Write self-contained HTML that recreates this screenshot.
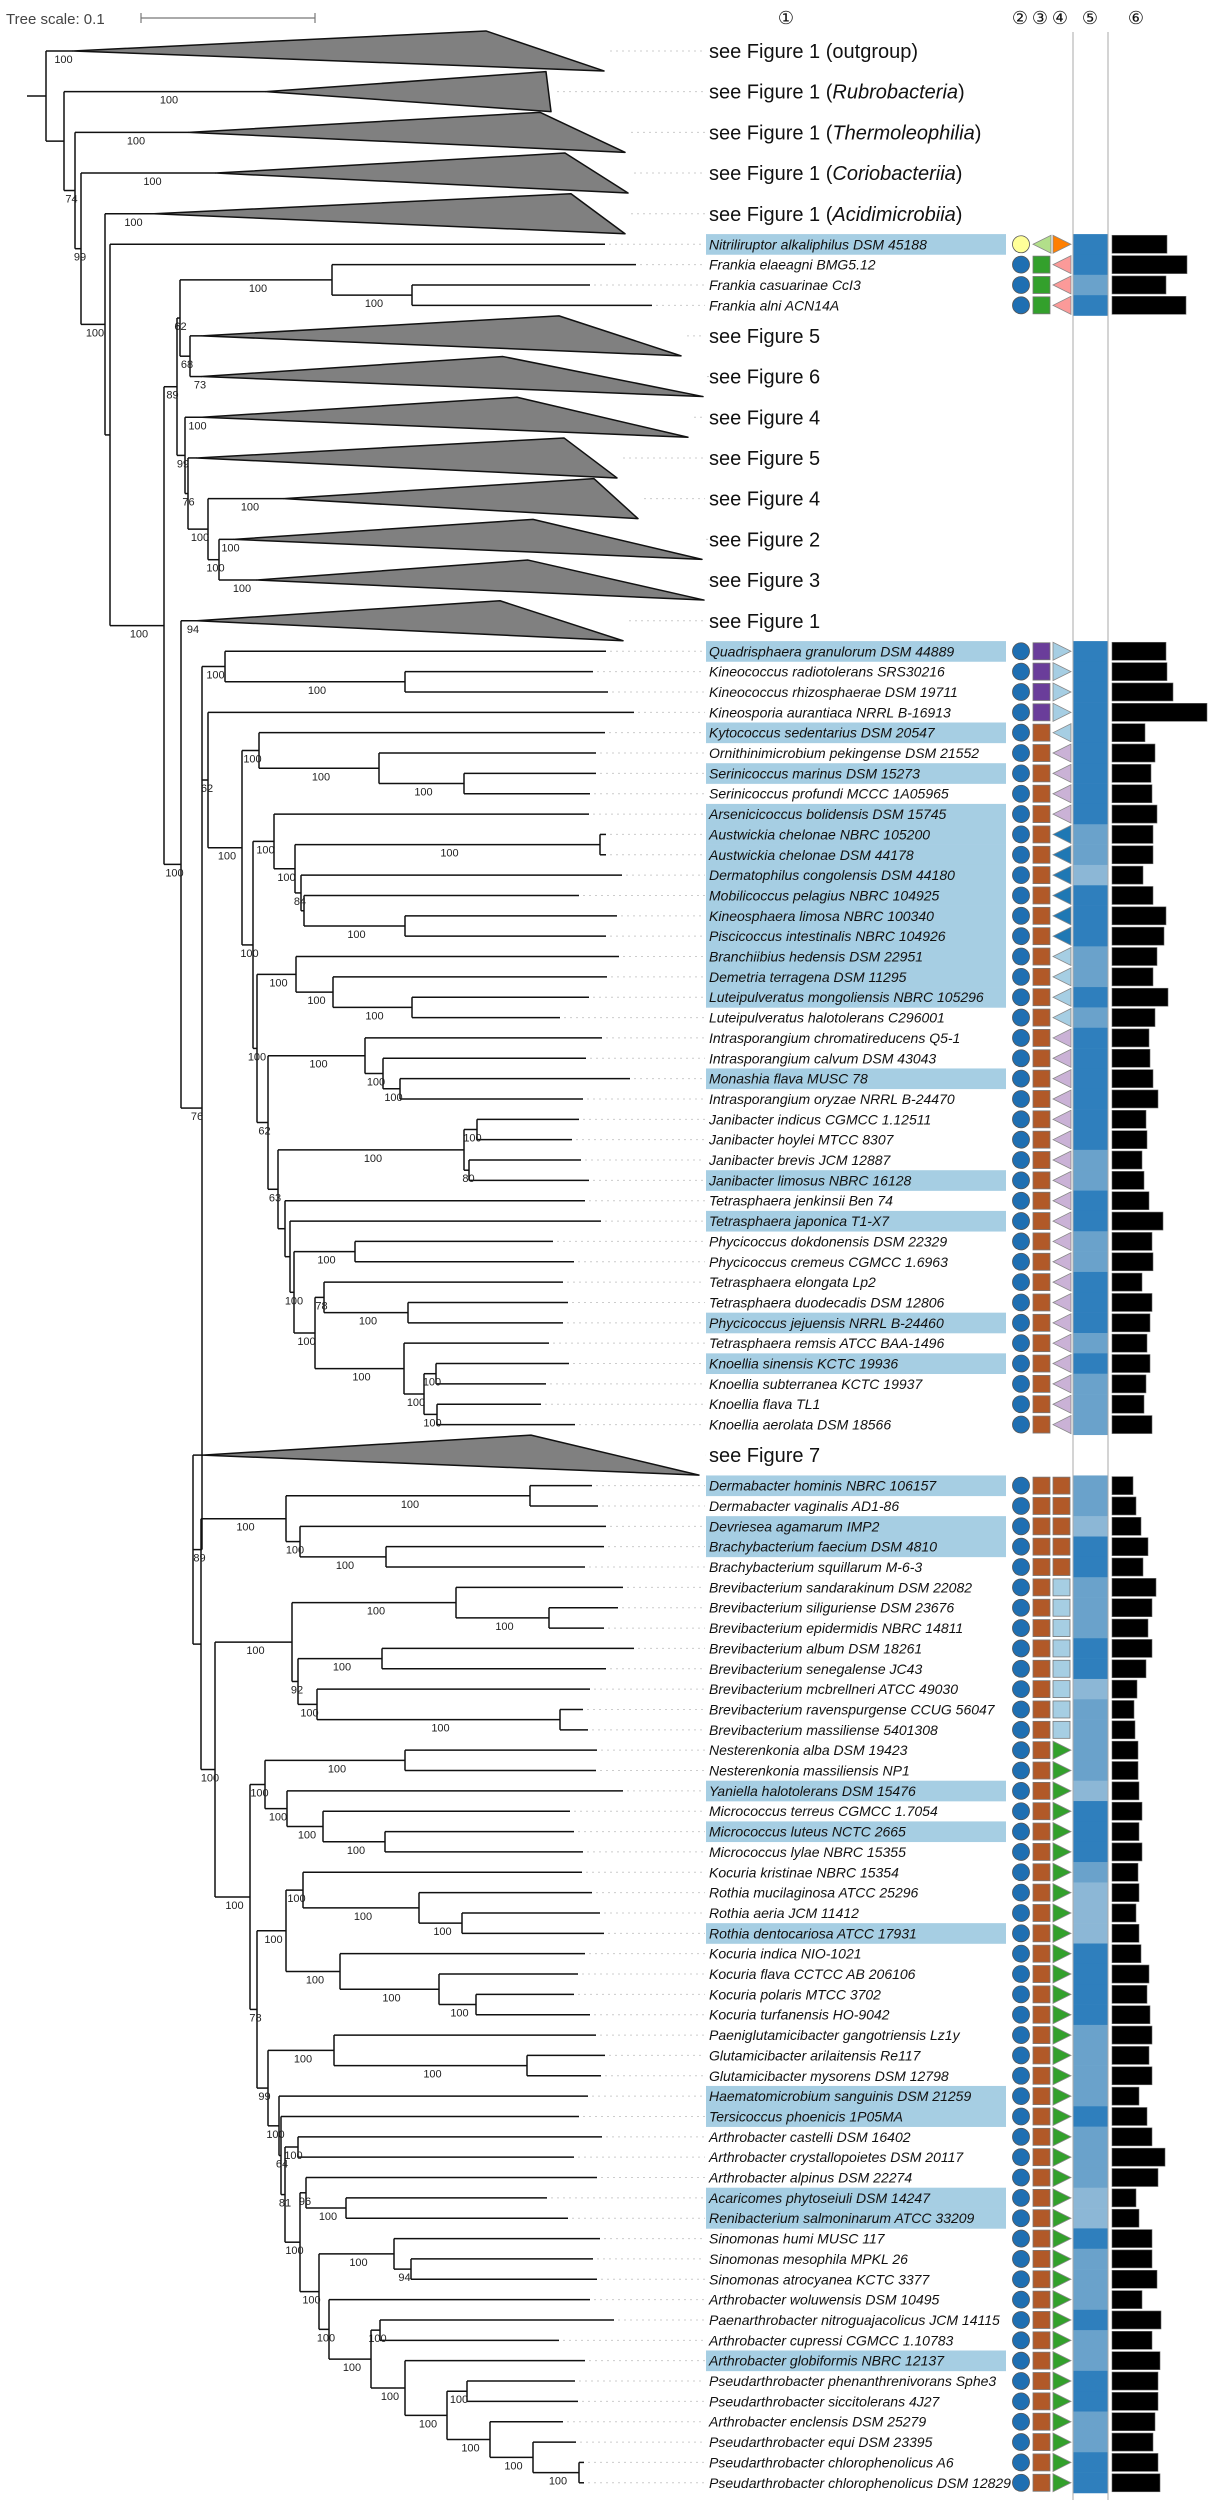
<!DOCTYPE html>
<html><head><meta charset="utf-8"><title>Phylogenetic tree</title>
<style>
html,body{margin:0;padding:0;background:#fff;}
svg{display:block;font-family:"Liberation Sans",sans-serif;}
</style></head>
<body>
<svg id="chart" width="1209" height="2500" viewBox="0 0 1209 2500" xmlns="http://www.w3.org/2000/svg">
<text x="6" y="24" font-size="15" fill="#444">Tree scale: 0.1</text>
<g stroke="#777" stroke-width="1.2">
<line x1="141" y1="18" x2="315" y2="18"/><line x1="141" y1="13" x2="141" y2="23"/><line x1="315" y1="13" x2="315" y2="23"/>
</g>
<g font-family="DejaVu Sans, sans-serif" font-size="18" text-anchor="middle" fill="#111">
<text x="786" y="24">①</text>
<text x="1020" y="24">②</text>
<text x="1040" y="24">③</text>
<text x="1060" y="24">④</text>
<text x="1090" y="24">⑤</text>
<text x="1136" y="24">⑥</text>
</g>
<g id="hl"></g>
<g id="band"></g>
<line x1="1073" y1="32" x2="1073" y2="2500" stroke="#aaa" stroke-width="1"/>
<line x1="1108" y1="32" x2="1108" y2="2500" stroke="#aaa" stroke-width="1"/>
<g id="tree"></g>
<g id="labels"></g>
<g id="marks"></g>
</svg>
<script>
// ---- data ----
const tipSeq = "CCCCCLLLLCCCCCCCC" + "LLLLLLLLLLLLLLLLLLLLLLLLLLLLLLLLLLLLLLL" + "C" + "LLLLLLLLLLLLLLLLLLLLLLLLLLLLLLLLLLLLLLLLLLLLLLLLLL";
const cladeLabels = [["see Figure 1 (outgroup)",""],["see Figure 1 (","Rubrobacteria"],["see Figure 1 (","Thermoleophilia"],["see Figure 1 (","Coriobacteriia"],["see Figure 1 (","Acidimicrobiia"],["see Figure 5",""],["see Figure 6",""],["see Figure 4",""],["see Figure 5",""],["see Figure 4",""],["see Figure 2",""],["see Figure 3",""],["see Figure 1",""],["see Figure 7",""]];
const leafNames = ["Nitriliruptor alkaliphilus DSM 45188","Frankia elaeagni BMG5.12","Frankia casuarinae CcI3","Frankia alni ACN14A",
"Quadrisphaera granulorum DSM 44889","Kineococcus radiotolerans SRS30216","Kineococcus rhizosphaerae DSM 19711","Kineosporia aurantiaca NRRL B-16913","Kytococcus sedentarius DSM 20547","Ornithinimicrobium pekingense DSM 21552","Serinicoccus marinus DSM 15273","Serinicoccus profundi MCCC 1A05965","Arsenicicoccus bolidensis DSM 15745","Austwickia chelonae NBRC 105200","Austwickia chelonae DSM 44178","Dermatophilus congolensis DSM 44180","Mobilicoccus pelagius NBRC 104925","Kineosphaera limosa NBRC 100340","Piscicoccus intestinalis NBRC 104926","Branchiibius hedensis DSM 22951","Demetria terragena DSM 11295","Luteipulveratus mongoliensis NBRC 105296","Luteipulveratus halotolerans C296001","Intrasporangium chromatireducens Q5-1","Intrasporangium calvum DSM 43043","Monashia flava MUSC 78","Intrasporangium oryzae NRRL B-24470","Janibacter indicus CGMCC 1.12511","Janibacter hoylei MTCC 8307","Janibacter brevis JCM 12887","Janibacter limosus NBRC 16128","Tetrasphaera jenkinsii Ben 74","Tetrasphaera japonica T1-X7","Phycicoccus dokdonensis DSM 22329","Phycicoccus cremeus CGMCC 1.6963","Tetrasphaera elongata Lp2","Tetrasphaera duodecadis DSM 12806","Phycicoccus jejuensis NRRL B-24460","Tetrasphaera remsis ATCC BAA-1496","Knoellia sinensis KCTC 19936","Knoellia subterranea KCTC 19937","Knoellia flava TL1","Knoellia aerolata DSM 18566",
"Dermabacter hominis NBRC 106157","Dermabacter vaginalis AD1-86","Devriesea agamarum IMP2","Brachybacterium faecium DSM 4810","Brachybacterium squillarum M-6-3","Brevibacterium sandarakinum DSM 22082","Brevibacterium siliguriense DSM 23676","Brevibacterium epidermidis NBRC 14811","Brevibacterium album DSM 18261","Brevibacterium senegalense JC43","Brevibacterium mcbrellneri ATCC 49030","Brevibacterium ravenspurgense CCUG 56047","Brevibacterium massiliense 5401308","Nesterenkonia alba DSM 19423","Nesterenkonia massiliensis NP1","Yaniella halotolerans DSM 15476","Micrococcus terreus CGMCC 1.7054","Micrococcus luteus NCTC 2665","Micrococcus lylae NBRC 15355","Kocuria kristinae NBRC 15354","Rothia mucilaginosa ATCC 25296","Rothia aeria JCM 11412","Rothia dentocariosa ATCC 17931","Kocuria indica NIO-1021","Kocuria flava CCTCC AB 206106","Kocuria polaris MTCC 3702","Kocuria turfanensis HO-9042","Paeniglutamicibacter gangotriensis Lz1y","Glutamicibacter arilaitensis Re117","Glutamicibacter mysorens DSM 12798","Haematomicrobium sanguinis DSM 21259","Tersicoccus phoenicis 1P05MA","Arthrobacter castelli DSM 16402","Arthrobacter crystallopoietes DSM 20117","Arthrobacter alpinus DSM 22274","Acaricomes phytoseiuli DSM 14247","Renibacterium salmoninarum ATCC 33209","Sinomonas humi MUSC 117","Sinomonas mesophila MPKL 26","Sinomonas atrocyanea KCTC 3377","Arthrobacter woluwensis DSM 10495","Paenarthrobacter nitroguajacolicus JCM 14115","Arthrobacter cupressi CGMCC 1.10783","Arthrobacter globiformis NBRC 12137","Pseudarthrobacter phenanthrenivorans Sphe3","Pseudarthrobacter siccitolerans 4J27","Arthrobacter enclensis DSM 25279","Pseudarthrobacter equi DSM 23395","Pseudarthrobacter chlorophenolicus A6","Pseudarthrobacter chlorophenolicus DSM 12829"];
const highlighted = "1000"
 + "1000101011111111110001000010100001010000".slice(0,0) + "10001010"+"1111111111"+"000"+"1"+"0000"+"1"+"0"+"1"+"0000"+"1"+"0"+"1"+"000"
 + "10110"+"0000000000"+"101"+"0000"+"1"+"0000000"+"11"+"000"+"11"+"000000"+"1"+"000000";
const col2 = "ybbb"
 + "bbbbbbbbbb"+"bbbbbbbbbb"+"bbbbbbbbbb"+"bbbbbbbbb"
 + "bbbbbbbbbb"+"bbbbbbbbbb"+"bbbbbbbbbb"+"bbbbbbbbbb"+"bbbbbbbbbb";
const col3 = "lggg"
 + "pppp"+"oooooooooo"+"oooooooooo"+"oooooooooo"+"ooooo"
 + "oooooooooo"+"oooooooooo"+"oooooooooo"+"oooooooooo"+"oooooooooo";
const col4 = "Rkkk"
 + "rrrr"+"a"+"vvvv"+"dddddd"+"aaaa"+"vvvvvvvvvv"+"vvvvvvvvvv"
 + "ooooo"+"ssssssss"+"GGGGGGGGGG"+"GGGGGGGGGG"+"GGGGGGGGGG"+"GGGGGGG";
const bandLevel = "0010"
 + "000000000"+"11"+"2"+"000"+"11"+"0"+"1000000110"+"0110001011"+"1"
 + "1120011100"+"211"+"1120001222"+"0000111101"+"1122011101"+"1001100";
const barValues = [55,75,54,74,
54,55,61,95,33,43,39,40,45,41,41,31,41,54,52,45,41,56,43,37,38,41,46,34,35,30,32,37,51,40,41,30,40,38,35,38,34,32,40,
21,24,29,36,31,44,40,36,40,34,25,22,23,26,26,27,30,27,30,26,27,24,27,29,37,35,38,40,37,40,27,35,40,53,46,24,27,40,40,45,30,49,40,48,46,46,43,41,46,48];

// ---- tree topology (x = node depth in px) ----
function N(x,b,...k){return {x:x,b:b,k:k};}
function T(i,e){return {t:i,e:e};}
function C(i,a,t,bo,b){return {c:i,a:a,tp:t,bo:bo,b:b};}
const tree = N(46,'',
 C(0,73,486,604,'100'),
 N(64,'',
  C(1,266,546,551,'100'),
  N(75,'74',
   C(2,189,540,625,'100'),
   N(81,'99',
    C(3,216,565,628,'100'),
    N(105,'100',
     C(4,154,571,625,'100'),
     N(110,'',
      T(5,605),
      N(164,'100',
       N(177,'89',
        N(180,'62',
         N(332,'100',T(6,636),N(412,'100',T(7,590),T(8,652))),
         N(190,'68',C(9,202,559,681,''),C(10,202,503,703,'73'))),
        N(185,'99',
         C(11,202,517,688,'100'),
         N(188,'76',
          C(12,197,564,617,''),
          N(208,'100',
           C(13,284,594,638,'100'),
           N(219,'100',C(14,234,533,702,'100'),C(15,257,528,704,'100')))))),
       N(181,'100',
        C(16,197,500,623,'94'),
        N(188,'',
         N(202,'76',
          N(225,'100',T(17,606),N(405,'100',T(18,593),T(19,608))),
          N(208,'62',T(20,634),
           N(242,'100',
            N(259,'100',T(21,605),N(379,'100',T(22,596),N(464,'100',T(23,596),T(24,590)))),
            N(253,'100',
             N(274,'100',T(25,589),
              N(295,'100',N(600,'100',T(26,606),T(27,606)),
               N(301,'84',T(28,622),N(304,'',T(29,579),N(405,'100',T(30,617),T(31,606)))))),
             N(257,'100',
              N(296,'100',T(32,619),N(333,'100',T(33,607),N(412,'100',T(34,589),T(35,560)))),
              N(268,'62',
               N(365,'100',T(36,602),N(383,'100',T(37,586),N(400,'100',T(38,630),T(39,583)))),
               N(278,'63',
                N(464,'100',N(477,'100',T(40,579),T(41,572)),N(469,'80',T(42,581),T(43,589))),
                N(285,'',T(44,585),
                 N(290,'',T(45,601),
                  N(294,'100',
                   N(355,'100',T(46,553),T(47,574)),
                   N(315,'100',
                    N(324,'78',T(48,563),N(408,'100',T(49,568),T(50,563))),
                    N(404,'100',T(51,549),N(424,'100',N(436,'100',T(52,569),T(53,546)),N(437,'100',T(54,541),T(55,575)))))))))))))),
         N(193,'89',
          C(56,203,531,699,''),
          N(201,'',
           N(286,'100',N(530,'100',T(57,592),T(58,598)),N(300,'100',T(59,606),N(386,'100',T(60,604),T(61,585)))),
           N(215,'100',
            N(292,'100',
             N(456,'100',T(62,623),N(549,'100',T(63,618),T(64,604))),
             N(298,'92',N(382,'100',T(65,634),T(66,606)),N(317,'100',T(67,590),N(560,'100',T(68,583),T(69,588))))),
            N(250,'100',
             N(265,'100',N(405,'100',T(70,597),T(71,596)),N(287,'100',T(72,623),N(323,'100',T(73,570),N(385,'100',T(74,574),T(75,583))))),
             N(257,'78',
              N(286,'100',
               N(303,'100',T(76,582),N(419,'100',T(77,592),N(462,'100',T(78,600),T(79,604)))),
               N(340,'100',T(80,585),N(439,'100',T(81,578),N(476,'100',T(82,574),T(83,590))))),
              N(268,'99',
               N(334,'100',T(84,596),N(527,'100',T(85,605),T(86,601))),
               N(279,'100',T(87,588),
                N(281,'64',T(88,579),
                 N(285,'81',
                  N(298,'100',T(89,602),T(90,574)),
                  N(300,'100',
                   N(306,'96',T(91,597),N(346,'100',T(92,547),T(93,568))),
                   N(319,'100',
                    N(394,'100',T(94,600),N(411,'94',T(95,593),T(96,597))),
                    N(329,'100',T(97,590),
                     N(371,'100',N(380,'100',T(98,614),T(99,559)),
                      N(405,'100',T(100,585),
                       N(447,'100',N(467,'100',T(101,575),T(102,578)),
                        N(490,'100',T(103,563),N(533,'100',T(104,576),N(579,'100',T(105,584),T(106,584)))))))))))))))))))))))))))));

// ---- layout ----
const NS="http://www.w3.org/2000/svg";
const ROW=20.35, TOP=30.6, LABX=709, LEADX=705;
const tipY=[], tipLeaf=[], tipClade=[];
(function(){let u=0,li=0,ci=0;for(let i=0;i<tipSeq.length;i++){if(tipSeq[i]==='C'){tipY.push(TOP+(u+1)*ROW);u+=2;tipClade[i]=ci++;}else{tipY.push(TOP+(u+0.5)*ROW);u+=1;tipLeaf[i]=li++;}}})();
function el(tag,attrs,parent){const e=document.createElementNS(NS,tag);for(const k in attrs)e.setAttribute(k,attrs[k]);parent.appendChild(e);return e;}
const gTree=document.getElementById('tree'),gLab=document.getElementById('labels'),gHl=document.getElementById('hl'),gBand=document.getElementById('band'),gMarks=document.getElementById('marks');
function boot(txt,x,y){if(!txt)return;const t=el('text',{x:x,y:y,'font-size':11,'text-anchor':'middle',fill:'#222'},gTree);t.textContent=txt;

}
function line(x1,y1,x2,y2,name){const l=el('line',{x1:x1,y1:y1,x2:x2,y2:y2,stroke:'#111','stroke-width':1.5},gTree);

}
function leader(x1,y){const l=el('line',{x1:x1,y1:y,x2:LEADX,y2:y,stroke:'#ccc','stroke-width':1,'stroke-dasharray':'2 4'},gTree);

}
function draw(n,px){
 if(n.t!==undefined){const y=tipY[n.t];line(px,y,n.e,y,'leaf-branch');leader(n.e+4,y);return y;}
 if(n.c!==undefined){const y=tipY[n.c];line(px,y,n.a,y,'clade-branch');
  const p=el('polygon',{points:n.a+','+y+' '+n.tp+','+(y-20)+' '+n.bo+','+(y+20),fill:'#808080',stroke:'#111','stroke-width':1.5,'stroke-linejoin':'round'},gTree);
  
  
  leader(Math.max(n.tp,n.bo)+6,y);boot(n.b,(px+n.a)/2+4,y+12);return y;}
 const ys=n.k.map(k=>draw(k,n.x));const y=(ys[0]+ys[ys.length-1])/2;
 line(n.x,ys[0],n.x,ys[ys.length-1],'node-vertical');line(px,y,n.x,y,'internal-branch');
 boot(n.b,(px+n.x)/2+2,y+12);return y;}
draw(tree,27);

// ---- labels & annotation columns ----
const colors={y:'#ffff99',b:'#1f6fb2'};
const bandColors=['#2f7fbd','#6aa2cb','#8cb7d6'];
const shapeMap={l:['L','#b2df8a'],g:['S','#33a02c'],p:['S','#6a3d9a'],o:['S','#b15928'],R:['R','#ff7f00'],k:['L','#fb9a99'],r:['R','#a6cee3'],a:['L','#a6cee3'],v:['L','#cab2d6'],d:['L','#1f78b4'],s:['S','#a6cee3'],G:['R','#33a02c']};
function tri(x0,x1,y,dir,fill,name){const h=9;const pts=dir==='L'?(x0+','+y+' '+x1+','+(y-h)+' '+x1+','+(y+h)):(x0+','+(y-h)+' '+x0+','+(y+h)+' '+x1+','+y);
 const p=el('polygon',{points:pts,fill:fill,stroke:'#888','stroke-width':0.8},gMarks);
 
 }
function sq(x0,y,fill,name){const r=el('rect',{x:x0,y:y-8.5,width:17,height:17,fill:fill,stroke:'#777','stroke-width':0.8},gMarks);
 
 }
function shape(code,x0,y,name){
 const m=shapeMap[code]; if(!m)return;
 if(m[0]==='S')sq(x0,y,m[1],name);else tri(x0,x0+18,y,m[0],m[1],name);}
for(let i=0;i<tipSeq.length;i++){
 const y=tipY[i];
 if(tipSeq[i]==='C'){const lab=cladeLabels[tipClade[i]];
  const t=el('text',{x:LABX,y:y+7,'font-size':20,fill:'#111'},gLab);
  
  
  t.appendChild(document.createTextNode(lab[0]));
  if(lab[1]){const s=el('tspan',{'font-style':'italic'},t);s.textContent=lab[1];t.appendChild(document.createTextNode(')'));}
  continue;}
 const j=tipLeaf[i];
 if(highlighted[j]==='1'){const r=el('rect',{x:706,y:y-ROW/2,width:300,height:ROW+0.3,fill:'#a6cee3'},gHl);
  
  }
 const t=el('text',{x:LABX,y:y+5,'font-size':14,'font-style':'italic',fill:'#111'},gLab);
 t.textContent=leafNames[j]||'';
 
 
 const c=el('circle',{cx:1021,cy:y,r:8.5,fill:colors[col2[j]]||'#1f6fb2',stroke:'#555','stroke-width':0.8},gMarks);
 
 
 shape(col3[j],1033,y,'column3-symbol');
 shape(col4[j],1053,y,'column4-symbol');
 const b=el('rect',{x:1073,y:y-ROW/2,width:35,height:ROW+0.3,fill:bandColors[+(bandLevel[j]||0)]},gBand);
 
 
 const bar=el('rect',{x:1112,y:y-9,width:barValues[j]||0,height:18,fill:'#000',stroke:'#666','stroke-width':0.6},gMarks);
 
 
}
</script>
</body></html>
